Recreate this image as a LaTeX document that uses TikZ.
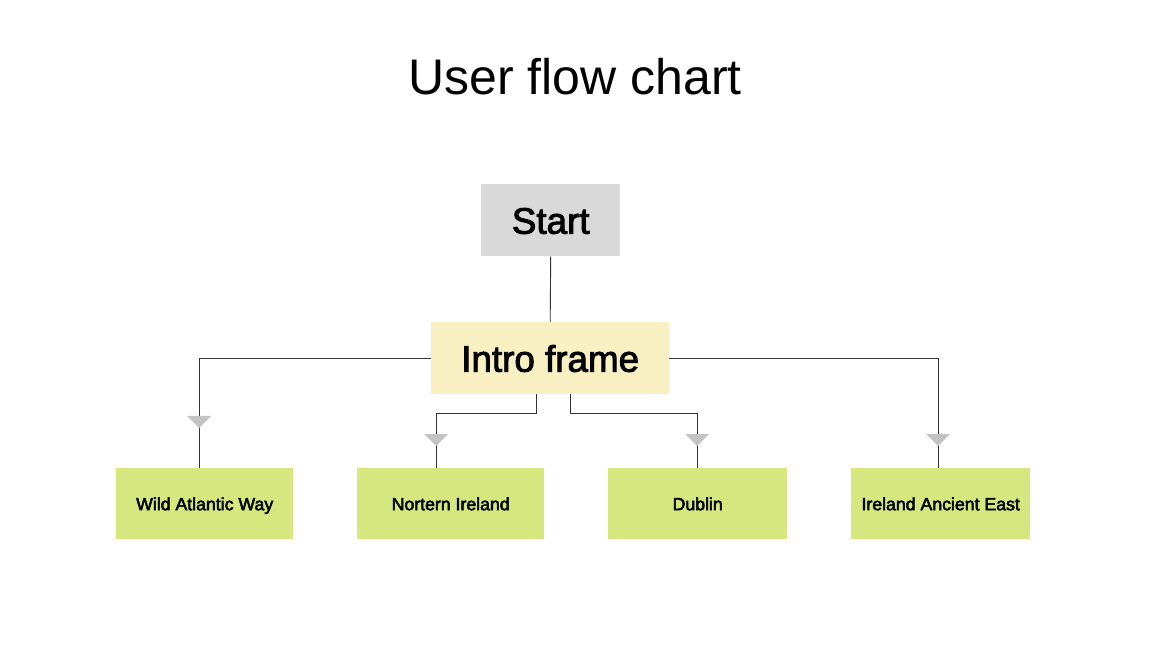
\documentclass[tikz,border=0pt]{standalone}
\usepackage{fontspec}
\setmainfont{Liberation Sans}
\usetikzlibrary{positioning}
\newcommand\heavytext[2]{\special{pdf:literal direct 2 Tr #1 w}#2\special{pdf:literal direct 0 Tr}}
\definecolor{startgray}{HTML}{D9D9D9}
\definecolor{introyel}{HTML}{F8F0C2}
\definecolor{leafgreen}{HTML}{D7E77F}
\definecolor{tipgray}{HTML}{C3C3C3}
\definecolor{linegray}{HTML}{333333}
\begin{document}
\begin{tikzpicture}[x=1pt,y=-1pt,
  box/.style={inner sep=0pt, anchor=north west, align=center, text depth=0pt},
  leaf/.style={box, fill=leafgreen, minimum height=71pt, text height=13pt, font=\fontsize{17.7}{20}\selectfont},
  bigbox/.style={box, minimum height=72pt, text height=27pt, font=\fontsize{36.8}{42}\selectfont},
  conn/.style={draw=linegray, line width=0.9pt},
  tipmark/.style={fill=tipgray, draw=none}
]
\useasboundingbox (0,0) rectangle (1152,660);
\fill[white] (0,0) rectangle (1152,660);

\node[font=\fontsize{50}{56}\selectfont, text height=36pt, text depth=0pt, inner sep=0pt] (title) at (575,77) {User flow chart};

\node[bigbox, fill=startgray, minimum width=139pt] (start) at (481,184) {\heavytext{0.9}{Start}};
\node[bigbox, fill=introyel, minimum width=238pt] (intro) at (431,322) {\heavytext{0.9}{Intro frame}};

\node[leaf, minimum width=177pt] (wild) at (116,468) {\heavytext{0.5}{Wild Atlantic Way}};
\node[leaf, minimum width=187pt] (north) at (357,468) {\heavytext{0.5}{Nortern Ireland}};
\node[leaf, minimum width=179pt] (dublin) at (608,468) {\heavytext{0.5}{Dublin}};
\node[leaf, minimum width=179pt] (east) at (851,468) {\heavytext{0.5}{Ireland Ancient East}};

\coordinate (wildtop) at (199,468);
\coordinate (northtop) at (436,468);
\coordinate (dublintop) at (697,468);
\coordinate (easttop) at (938,468);

\draw[conn] (start.south) -- (intro.north);
\draw[conn] (intro.west) -| (wildtop);
\draw[conn] ([xshift=-14pt]intro.south) |- (436,413) -- (northtop);
\draw[conn] ([xshift=20pt]intro.south) |- (697,413) -- (dublintop);
\draw[conn] (intro.east) -| (easttop);

\fill[tipmark] (187,416) -- (211,416) -- (199,428) -- cycle;
\fill[tipmark] (424,434) -- (448,434) -- (436,446) -- cycle;
\fill[tipmark] (685,434) -- (709,434) -- (697,446) -- cycle;
\fill[tipmark] (926,434) -- (950,434) -- (938,446) -- cycle;
\end{tikzpicture}
\end{document}
